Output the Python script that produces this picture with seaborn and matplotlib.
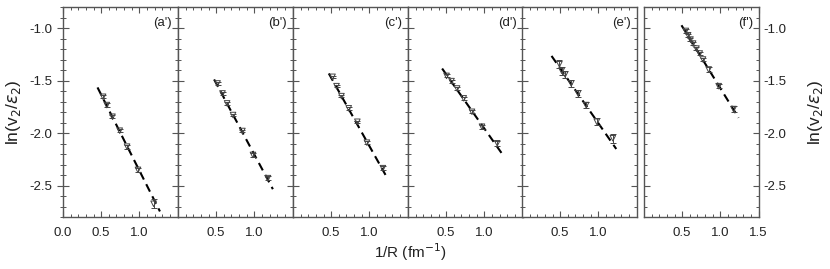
import numpy as np
import pandas as pd
import matplotlib
matplotlib.use("Agg")
import matplotlib.pyplot as plt
from matplotlib.ticker import MultipleLocator
import seaborn as sns

sns.set_style("ticks")
plt.rcParams['font.family'] = ['Liberation Sans', 'DejaVu Sans']

panel_labels = ["(a')", "(b')", "(c')", "(d')", "(e')", "(f')"]

x_a = [0.525, 0.574, 0.648, 0.743, 0.839, 0.982, 1.187]
y_a = [-1.655, -1.734, -1.845, -1.978, -2.130, -2.351, -2.674]
e_a = [0.015, 0.015, 0.015, 0.015, 0.02, 0.02, 0.045]

x_b = [0.518, 0.583, 0.643, 0.721, 0.844, 0.982, 1.178]
y_b = [-1.528, -1.623, -1.718, -1.829, -1.981, -2.209, -2.430]
e_b = [0.012, 0.012, 0.012, 0.012, 0.012, 0.015, 0.02]

x_c = [0.518, 0.570, 0.635, 0.730, 0.843, 0.968, 1.177]
y_c = [-1.465, -1.554, -1.649, -1.765, -1.893, -2.092, -2.335]
e_c = [0.012, 0.012, 0.012, 0.012, 0.012, 0.015, 0.02]

x_d = [0.505, 0.570, 0.643, 0.730, 0.838, 0.969, 1.169]
y_d = [-1.456, -1.506, -1.576, -1.670, -1.798, -1.940, -2.098]
e_d = [0.015, 0.015, 0.015, 0.015, 0.015, 0.02, 0.025]

x_e = [0.49, 0.52, 0.565, 0.645, 0.735, 0.84, 0.98, 1.19]
y_e = [-1.345, -1.408, -1.443, -1.528, -1.623, -1.734, -1.893, -2.050]
e_e = [0.04, 0.035, 0.03, 0.03, 0.03, 0.03, 0.035, 0.045]

x_f = [0.548, 0.578, 0.609, 0.643, 0.687, 0.730, 0.773, 0.847, 0.978, 1.173]
y_f = [-1.028, -1.069, -1.110, -1.148, -1.196, -1.243, -1.300, -1.395, -1.554, -1.772]
e_f = [0.015, 0.015, 0.015, 0.015, 0.015, 0.015, 0.015, 0.02, 0.02, 0.025]

fit_x = [[0.452, 1.27], [0.473, 1.243], [0.469, 1.212], [0.447, 1.252], [0.387, 1.235], [0.491, 1.239]]
fit_y = [[-1.566, -2.747], [-1.49, -2.535], [-1.433, -2.399], [-1.386, -2.218], [-1.266, -2.152], [-0.974, -1.855]]

xs = [x_a, x_b, x_c, x_d, x_e, x_f]
ys = [y_a, y_b, y_c, y_d, y_e, y_f]
es = [e_a, e_b, e_c, e_d, e_e, e_f]

W, H = 830, 269
fig = plt.figure(figsize=(W / 100, H / 100), dpi=100)
lefts = [63, 178, 293, 408, 522, 644]
pw = 114.5
top, bottom = 7, 217
spine_col = '#555555'
mk_col = '#444444'
txt_col = '#222222'

for i in range(6):
    ax = fig.add_axes([lefts[i] / W, 1 - bottom / H, pw / W, (bottom - top) / H])
    df = pd.DataFrame({"x": xs[i], "y": ys[i]})
    sns.lineplot(x=fit_x[i], y=fit_y[i], ax=ax, color='black', lw=1.5,
                 linestyle=(0, (4, 2.5)), zorder=2)
    ax.errorbar(xs[i], ys[i], yerr=es[i], fmt='none', ecolor=mk_col,
                elinewidth=0.7, capsize=2.2, capthick=0.7, zorder=3)
    sns.scatterplot(data=df, x="x", y="y", ax=ax, marker='v', s=16,
                    color='none', edgecolor=mk_col, linewidth=0.7, zorder=4)
    ax.collections[-1].set_facecolor('none')
    ax.set_xlim(0, 1.5)
    ax.set_ylim(-2.8, -0.8)
    ax.set_xlabel("")
    ax.set_ylabel("")
    if i == 0:
        ax.set_xticks([0.0, 0.5, 1.0])
    elif i == 5:
        ax.set_xticks([0.5, 1.0, 1.5])
    else:
        ax.set_xticks([0.5, 1.0])
    ax.set_xticklabels([f"{v:.1f}" for v in ax.get_xticks()])
    ax.xaxis.set_minor_locator(MultipleLocator(0.1))
    ax.yaxis.set_major_locator(MultipleLocator(0.5))
    ax.yaxis.set_minor_locator(MultipleLocator(0.1))
    for s in ax.spines.values():
        s.set_visible(True)
        s.set_color(spine_col)
        s.set_linewidth(1.0)
    ax.tick_params(axis='both', which='both', direction='in', colors=spine_col,
                   top=True, right=True, labelsize=9.5, labelcolor=txt_col)
    ax.tick_params(axis='x', which='major', length=4, width=0.8, pad=7)
    ax.tick_params(axis='x', which='minor', length=2.5, width=0.7)
    ax.tick_params(axis='y', which='major', length=4, width=0.8)
    ax.tick_params(axis='y', which='minor', length=2.5, width=0.7)
    if i == 0:
        ax.tick_params(axis='y', which='both', labelleft=True, labelright=False)
        ax.tick_params(axis='y', which='major', direction='inout', length=8)
        ax.tick_params(axis='y', which='minor', direction='inout', length=5)
        ax.set_yticks([-2.5, -2.0, -1.5, -1.0])
        ax.set_yticklabels([f"{v:.1f}" for v in ax.get_yticks()])
        ax.set_ylabel(r"ln(v$_2$/$\varepsilon_2$)", fontsize=12.5, labelpad=5,
                      color=txt_col)
    elif i == 5:
        ax.tick_params(axis='y', which='both', labelleft=False, labelright=True)
        ax.set_yticks([-2.5, -2.0, -1.5, -1.0])
        ax.set_yticklabels([f"{v:.1f}" for v in ax.get_yticks()])
        ax.yaxis.set_label_position('right')
        ax.set_ylabel(r"ln(v$_2$/$\varepsilon_2$)", fontsize=12.5, labelpad=14,
                      rotation=90, color=txt_col)
    else:
        ax.tick_params(axis='y', which='both', labelleft=False, labelright=False)
    ax.text(0.95, 0.925, panel_labels[i], transform=ax.transAxes, ha='right',
            va='center', fontsize=9.5, color=txt_col)

fig.text(410 / W, 1 - 252 / H, r"1/R (fm$^{-1}$)", ha='center', va='center',
         fontsize=11, color=txt_col)

fig.savefig("out.png", dpi=100)
